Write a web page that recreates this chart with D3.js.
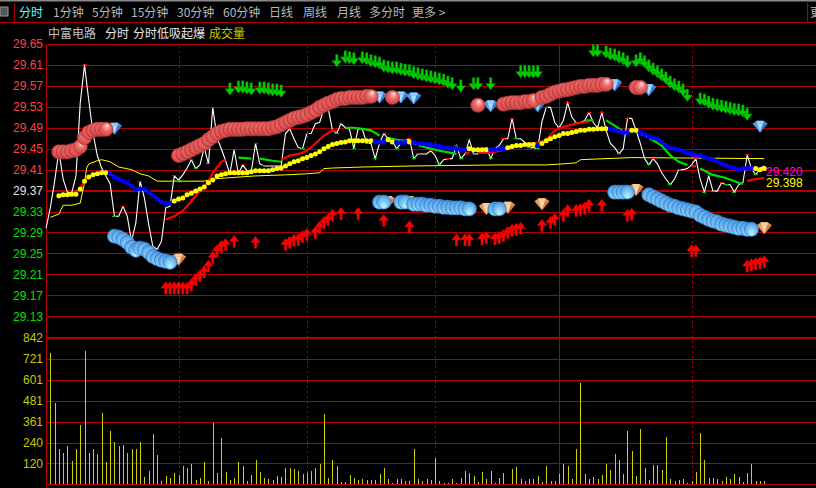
<!DOCTYPE html>
<html><head><meta charset="utf-8">
<script src="https://cdn.jsdelivr.net/npm/d3@7/dist/d3.min.js"></script>
<style>
html,body{margin:0;padding:0;background:#000;overflow:hidden}
svg{display:block}
text{font-family:"Liberation Sans",Arial,sans-serif;font-size:12px}
.cjk{font-family:"Noto Sans CJK SC","Noto Sans",sans-serif;font-size:12px}
</style></head><body><div id="chart"></div>
<script>
// ---------- labels ----------
const toolbarItems=["分时","1分钟","5分钟","15分钟","30分钟","60分钟","日线","周线","月线","多分时","更多 >"];
const titleItems=["中富电路","分时","分时低吸起爆","成交量"];
const priceTicks=[29.65,29.61,29.57,29.53,29.49,29.45,29.41,29.37,29.33,29.29,29.25,29.21,29.17,29.13];
const volumeTicks=[842,721,601,481,361,240,120,0];
const refPrice=29.37;
const sessionBreaks=[30,60,90,150];
const dayBreak=119;
const lastAvg="29.398", lastMain="29.420";

// ---------- minute price (white) ----------
const openPrice=29.298;
const whitePrices=[29.337,29.387,29.446,29.392,29.367,29.365,29.398,29.537,29.610,29.542,29.479,29.437,29.413,29.398,29.383,29.321,29.321,29.340,29.321,29.273,
29.308,29.388,29.356,29.306,29.263,29.258,29.273,29.337,29.340,29.398,29.390,29.400,29.413,29.429,29.412,29.419,29.452,29.421,29.529,29.471,
29.450,29.427,29.402,29.448,29.402,29.419,29.408,29.406,29.460,29.421,29.417,29.417,29.417,29.417,29.417,29.479,29.488,29.469,29.452,29.450,
29.479,29.479,29.498,29.500,29.527,29.527,29.485,29.479,29.498,29.490,29.487,29.450,29.488,29.487,29.460,29.460,29.431,29.460,29.479,29.469,
29.465,29.450,29.460,29.465,29.469,29.431,29.440,29.440,29.440,29.446,29.437,29.419,29.429,29.431,29.431,29.456,29.431,29.440,29.467,29.440,
29.440,29.450,29.452,29.431,29.450,29.456,29.469,29.469,29.508,29.469,29.469,29.462,29.452,29.452,29.450,29.502,29.529,29.529,29.500,29.490,
29.504,29.538,29.510,29.500,29.500,29.504,29.519,29.500,29.490,29.519,29.485,29.460,29.452,29.440,29.450,29.508,29.508,29.485,29.460,29.431,
29.419,29.431,29.421,29.404,29.392,29.381,29.392,29.410,29.410,29.412,29.419,29.431,29.392,29.367,29.398,29.369,29.369,29.385,29.381,29.381,
29.367,29.381,29.385,29.438,29.412,29.400,29.413,29.417];

// ---------- thin yellow average: [minute index, price] ----------
const avgLine=[[0,29.319],[2,29.325],[3,29.342],[5,29.342],[7,29.346],[8,29.385],[8.5,29.413],[9,29.421],[11,29.427],[12,29.429],[14,29.425],[16,29.415],[19,29.410],[21,29.402],[23,29.398],[25,29.388],[32,29.388],[36,29.388],[38,29.392],[41,29.394],[48,29.398],[55,29.400],[60,29.402],[63,29.404],[64,29.412],[66,29.413],[73,29.415],[85,29.417],[105,29.419],[116,29.419],[120,29.421],[123,29.423],[124,29.429],[136,29.433],[167,29.431]];

// ---------- dotted trend line, starts at index 2 ----------
const trendStart=2;
const trendPrices=[29.360,29.362,29.362,29.363,29.363,29.373,29.388,29.396,29.400,29.402,29.404,29.404,29.402,29.396,29.392,29.388,29.385,29.379,29.373,29.373,
29.373,29.367,29.360,29.354,29.348,29.346,29.346,29.350,29.354,29.356,29.362,29.365,29.369,29.373,29.377,29.385,29.390,29.398,29.400,29.402,
29.404,29.404,29.404,29.404,29.404,29.406,29.408,29.408,29.408,29.408,29.410,29.412,29.413,29.417,29.421,29.425,29.427,29.431,29.433,29.437,
29.440,29.444,29.450,29.454,29.458,29.460,29.462,29.463,29.465,29.465,29.465,29.465,29.465,29.465,29.463,29.463,29.463,29.467,29.463,29.462,
29.462,29.462,29.463,29.462,29.460,29.460,29.458,29.458,29.456,29.454,29.452,29.452,29.450,29.450,29.448,29.448,29.450,29.448,29.448,29.448,
29.448,29.448,29.448,29.450,29.450,29.452,29.454,29.456,29.456,29.458,29.458,29.458,29.456,29.460,29.465,29.469,29.473,29.475,29.479,29.479,
29.481,29.483,29.485,29.485,29.487,29.487,29.488,29.488,29.488,29.488,29.485,29.483,29.481,29.481,29.485,29.485,29.481,29.477,29.473,29.471,
29.469,29.463,29.456,29.452,29.450,29.448,29.444,29.442,29.440,29.438,29.437,29.433,29.431,29.429,29.425,29.421,29.419,29.415,29.413,29.410,
29.412,29.413,29.412,29.412,29.410,29.412];
const trendUpRanges=[[2,13],[29,75],[79,80],[84,84],[98,102],[107,113],[115,130],[136,137],[165,167]];

// ---------- thick line pieces: [minute index, price] ----------
const redPieces=[
[[5,29.363],[6,29.369],[7,29.373],[8,29.388]],
[[27,29.315],[29,29.321],[31,29.331],[33,29.350],[35,29.369],[37,29.388],[38,29.404],[40,29.425],[41,29.429]],
[[54,29.429],[56,29.437],[58,29.440],[59,29.442],[61,29.452],[62,29.460],[64,29.475],[66,29.485],[67,29.483]],
[[97,29.440],[98,29.442]],
[[100,29.442],[102,29.442],[104,29.444],[107,29.450],[109,29.456],[112,29.460],[114,29.460],[116,29.467],[118,29.485],[120,29.492],[123,29.498],[126,29.502]],
[[135,29.485],[136,29.485]],
[[150,29.417],[151,29.417]],
[[163,29.388],[165,29.392],[167,29.394]]];
const greenPieces=[
[[44,29.433],[47,29.431]],
[[49,29.431],[52,29.427],[54,29.425]],
[[69,29.490],[71,29.490],[73,29.488],[75,29.485],[77,29.475]],
[[79,29.471],[81,29.467],[83,29.465]],
[[85,29.460],[88,29.452],[91,29.446],[95,29.440]],
[[125,29.504],[127,29.504]],
[[130,29.504],[132,29.494],[134,29.483],[135,29.483]],
[[137,29.483],[140,29.471],[143,29.456],[145,29.437],[147,29.425],[149,29.419]],
[[152,29.412],[155,29.400],[158,29.394],[161,29.385],[162,29.383]]];

// ---------- signal markers ----------
const pearlIdx=[2,3,4,5,6,7,8,9,10,11,12,13,30,31,32,33,34,35,36,37,38,39,40,41,42,43,44,45,46,47,48,49,50,51,52,53,54,55,56,57,58,59,60,61,62,63,64,65,66,67,68,69,70,71,72,73,74,75,80,100,106,107,108,109,110,111,112,113,115,116,117,118,119,120,121,122,123,124,125,126,127,128,129,130,137,138];
const pearlPrice=[29.444,29.444,29.444,29.446,29.448,29.454,29.471,29.481,29.485,29.487,29.487,29.487,29.437,29.440,29.444,29.448,29.452,29.456,29.460,29.467,29.473,29.479,29.483,29.485,29.487,29.487,29.487,29.487,29.488,29.488,29.488,29.488,29.488,29.488,29.490,29.492,29.496,29.500,29.504,29.508,29.510,29.512,29.515,29.519,29.523,29.529,29.533,29.537,29.540,29.544,29.546,29.546,29.548,29.548,29.548,29.548,29.550,29.550,29.548,29.533,29.535,29.537,29.538,29.538,29.538,29.540,29.540,29.542,29.548,29.550,29.554,29.558,29.560,29.562,29.563,29.565,29.567,29.569,29.569,29.571,29.571,29.571,29.573,29.573,29.567,29.567];
const ballIdx=[15,16,17,18,19,20,21,22,23,24,25,26,27,28,77,78,82,83,85,86,87,88,89,90,91,92,93,94,95,96,97,98,104,105,132,133,134,135,140,141,142,143,144,145,146,147,148,149,150,151,152,153,154,155,156,157,158,159,160,161,162,163,164];
const ballPrice=[29.283,29.281,29.277,29.271,29.262,29.256,29.260,29.258,29.252,29.244,29.240,29.237,29.235,29.233,29.348,29.348,29.348,29.348,29.344,29.344,29.344,29.342,29.342,29.340,29.340,29.338,29.338,29.337,29.337,29.337,29.335,29.335,29.335,29.335,29.367,29.367,29.367,29.367,29.362,29.358,29.354,29.350,29.346,29.342,29.340,29.337,29.335,29.333,29.331,29.329,29.323,29.319,29.315,29.312,29.310,29.306,29.304,29.302,29.300,29.298,29.298,29.296,29.296];
const sellIdx=[42,44,45,46,47,49,50,51,52,53,54,67,69,70,71,73,74,75,76,77,78,79,80,81,82,83,84,85,86,87,88,89,90,91,92,93,94,96,99,100,103,110,111,112,113,114,127,128,130,131,132,133,134,135,137,138,139,140,141,142,143,144,145,146,147,148,149,152,153,154,155,156,157,158,159,160,161,162,163];
const sellPrice=[29.552,29.556,29.556,29.554,29.552,29.554,29.554,29.552,29.550,29.550,29.548,29.606,29.613,29.612,29.610,29.612,29.610,29.606,29.604,29.602,29.596,29.594,29.592,29.592,29.590,29.588,29.587,29.583,29.581,29.579,29.577,29.575,29.573,29.571,29.569,29.565,29.562,29.558,29.562,29.562,29.562,29.585,29.585,29.585,29.585,29.585,29.625,29.625,29.623,29.619,29.617,29.613,29.610,29.604,29.606,29.610,29.604,29.596,29.590,29.585,29.579,29.573,29.565,29.560,29.556,29.550,29.540,29.533,29.531,29.527,29.523,29.521,29.519,29.517,29.515,29.513,29.512,29.510,29.504];
const buyIdx=[27,28,29,30,31,32,33,34,35,36,37,38,39,40,41,43,48,55,56,57,58,59,60,62,63,64,65,66,68,72,78,84,95,97,98,101,102,104,105,106,107,108,109,110,115,117,118,120,121,123,124,125,126,129,135,136,150,151,163,164,165,166,167];
const buyPrice=[29.196,29.196,29.196,29.196,29.196,29.196,29.202,29.212,29.219,29.227,29.238,29.254,29.267,29.275,29.279,29.285,29.283,29.279,29.283,29.287,29.288,29.294,29.298,29.302,29.312,29.321,29.327,29.335,29.338,29.338,29.325,29.313,29.288,29.288,29.288,29.290,29.292,29.290,29.292,29.296,29.302,29.306,29.308,29.310,29.315,29.321,29.327,29.335,29.344,29.344,29.346,29.348,29.354,29.354,29.335,29.337,29.267,29.267,29.238,29.240,29.242,29.244,29.246];
const blueGemIdx=[15,77,82,85,103,114,132,140,166];
const blueGemPrice=[29.488,29.548,29.548,29.546,29.531,29.531,29.571,29.562,29.492];
const orangeGemIdx=[30,79,84,102,107,115,137,167];
const orangeGemPrice=[29.238,29.348,29.348,29.335,29.337,29.344,29.371,29.298];

// ---------- volume ----------
const volumes=[754,470,206,178,223,132,206,344,768,183,206,172,413,126,309,241,223,229,183,206,206,241,40,74,287,166,17,46,34,63,52,103,92,115,23,34,126,17,350,63,264,69,23,34,126,103,17,52,138,69,34,29,
23,46,40,92,92,86,74,57,63,74,92,115,407,34,138,103,11,11,52,34,23,29,23,23,23,57,92,29,6,29,29,17,17,201,29,17,29,23,149,17,6,6,29,6,34,74,63,46,11,69,29,74,6,34,63,0,86,97,29,17,29,29,46,11,
103,17,17,57,115,103,29,201,584,57,29,40,29,52,115,80,172,138,57,309,189,46,321,92,23,109,109,80,275,29,17,23,29,6,17,69,298,138,34,34,29,17,40,29,57,40,11,63,115,17,17,17];

// ---------- colours ----------
const GRID="#b00000",AXIS_RED="#ff4040",AXIS_GREEN="#00e000",AXIS_WHITE="#e0e0e0",VOL="#d0d000";

const W=816,H=488;
const svg=d3.select("#chart").append("svg").attr("width",W).attr("height",H).style("background","#000");
const x=d3.scaleLinear().domain([0,167]).range([50.3,764.3]);
const y=d3.scaleLinear().domain([29.13,29.65]).range([316.2,44]);
const yv=d3.scaleLinear().domain([0,842]).range([484.3,338]);
const px=v=>Math.round(v)+.5;

// defs
const defs=svg.append("defs");
const rg=(id,fx,fy,stops)=>{const g=defs.append("radialGradient").attr("id",id).attr("cx","50%").attr("cy","50%").attr("r","55%").attr("fx",fx).attr("fy",fy);
 stops.forEach(s=>g.append("stop").attr("offset",s[0]).attr("stop-color",s[1]));};
rg("pearl","60%","22%",[["0%","#fff4f2"],["20%","#fbb0ae"],["50%","#ec6a6a"],["82%","#dc4c4c"],["100%","#9c2c2c"]]);
rg("ball","50%","85%",[["0%","#c0f8ff"],["45%","#88cdf5"],["80%","#5aa8ea"],["100%","#3a80d0"]]);

// toolbar
svg.append("rect").attr("width",W).attr("height",1.5).attr("fill","#8a8a8a");
svg.append("rect").attr("x",0).attr("y",7).attr("width",8).attr("height",9).attr("fill","#555").attr("stroke","#999");
const tbX=[19,53,92,131,177,223,269,303,337,369,412];
svg.selectAll("text.tb").data(toolbarItems).join("text").attr("class","cjk tb")
 .attr("x",(d,i)=>tbX[i]).attr("y",17).attr("fill",(d,i)=>i==0?"#50ffff":"#b8b8b8").text(d=>d);
svg.append("text").attr("class","cjk").attr("x",810).attr("y",17).attr("fill","#c0c0c0").text("更");
svg.append("line").attr("x1",0).attr("x2",W).attr("y1",22.5).attr("y2",22.5).attr("stroke",GRID);
[14.5,807.5].forEach(v=>svg.append("line").attr("x1",v).attr("x2",v).attr("y1",3).attr("y2",22).attr("stroke",GRID));
const tiX=[48,105,133,209],tiC=["#c0c0c0","#e8e8e8","#e8e8e8","#c8c800"];
svg.selectAll("text.ti").data(titleItems).join("text").attr("class","cjk ti")
 .attr("x",(d,i)=>tiX[i]).attr("y",38).attr("fill",(d,i)=>tiC[i]).text(d=>d);

// grids
const grid=svg.append("g").attr("shape-rendering","crispEdges");
priceTicks.forEach(p=>{const t=p===refPrice;grid.append("line").attr("x1",47).attr("x2",W)
 .attr("y1",t?Math.round(y(p)):px(y(p))).attr("y2",t?Math.round(y(p)):px(y(p))).attr("stroke",GRID).attr("stroke-width",t?2:1);});
volumeTicks.forEach(v=>{const t=v===842;grid.append("line").attr("x1",47).attr("x2",W)
 .attr("y1",t?Math.round(yv(v)):px(yv(v))).attr("y2",t?Math.round(yv(v)):px(yv(v))).attr("stroke",GRID).attr("stroke-width",t?2:1);});
grid.append("line").attr("x1",46.5).attr("x2",46.5).attr("y1",44).attr("y2",488).attr("stroke",GRID);
sessionBreaks.forEach(i=>grid.append("line").attr("x1",px(x(i))-.5).attr("x2",px(x(i))-.5).attr("y1",46).attr("y2",484)
 .attr("stroke","#b00000").attr("stroke-dasharray","1.5,3.5"));
grid.append("line").attr("x1",px(x(dayBreak))).attr("x2",px(x(dayBreak))).attr("y1",44).attr("y2",484).attr("stroke",GRID);

// axes
const priceAxis=d3.axisLeft(y).tickValues(priceTicks).tickSize(0).tickPadding(3).tickFormat(d3.format(".2f"));
const pa=svg.append("g").attr("transform","translate(46,0)").call(priceAxis);
pa.select(".domain").remove();
pa.selectAll("text").style("font-size","12px").style("font-family",'"Liberation Sans",Arial,sans-serif')
 .attr("fill",d=>d>refPrice?AXIS_RED:d<refPrice?AXIS_GREEN:AXIS_WHITE);
const volAxis=d3.axisLeft(yv).tickValues(volumeTicks.filter(v=>v>0)).tickSize(0).tickPadding(3).tickFormat(d3.format("d"));
const va=svg.append("g").attr("transform","translate(46,0)").call(volAxis);
va.select(".domain").remove();
va.selectAll("text").style("font-size","12px").style("font-family",'"Liberation Sans",Arial,sans-serif').attr("fill","#c8c800");

// volume bars
svg.append("g").attr("shape-rendering","crispEdges").selectAll("rect").data(volumes).join("rect")
 .attr("x",(d,i)=>Math.round(x(i))).attr("width",1).attr("y",d=>yv(d)).attr("height",d=>yv(0)-yv(d)).attr("fill",VOL);

// lines
const pairLine=d3.line().x(d=>x(d[0])).y(d=>y(d[1]));
svg.append("path").attr("d",pairLine(avgLine)).attr("fill","none").attr("stroke","#ffff00").attr("stroke-width",1);
const whitePairs=[[-1,openPrice]].concat(whitePrices.map((p,i)=>[i,p]));
svg.append("path").attr("d",pairLine(whitePairs)).attr("fill","none").attr("stroke","#ffffff").attr("stroke-width",1.1);
// turning-point ticks on the white line
const turns=whitePrices.map((p,i)=>{const a=whitePrices[i-1],b=whitePrices[i+1];
 if(a===undefined||b===undefined)return null;
 if(p>a&&p>=b)return {i,p,c:"#ff0000"}; if(p<a&&p<=b)return {i,p,c:"#00d000"}; return null;}).filter(Boolean);
svg.append("g").attr("shape-rendering","crispEdges").selectAll("rect").data(turns).join("rect")
 .attr("x",d=>x(d.i)-2).attr("y",d=>y(d.p)-.5).attr("width",4).attr("height",1).attr("fill",d=>d.c);

const thick=(pieces,c)=>svg.append("g").selectAll("path").data(pieces).join("path")
 .attr("d",d=>pairLine(d)).attr("fill","none").attr("stroke",c).attr("stroke-width",2.2);
thick(greenPieces,"#00e000");
thick(redPieces,"#ff0000");

// dotted trend
const isUp=i=>trendUpRanges.some(r=>i>=r[0]&&i<=r[1]);
const trendData=trendPrices.map((p,k)=>({i:k+trendStart,p,up:isUp(k+trendStart)}));
svg.append("g").selectAll("line").data(trendData.slice(1)).join("line")
 .attr("x1",d=>x(d.i-1)).attr("x2",d=>x(d.i)).attr("y1",d=>y(trendData[d.i-1-trendStart].p)).attr("y2",d=>y(d.p))
 .attr("stroke",d=>d.up?"#ff0000":"#00c800").attr("stroke-width",1.5);
svg.append("g").selectAll("circle").data(trendData).join("circle")
 .attr("cx",d=>x(d.i)).attr("cy",d=>y(d.p)).attr("r",2.5).attr("fill",d=>d.up?"#ffff00":"#0000ff");

// gems
function gem(i,p,base,lite,dark){
 const g=svg.append("g").attr("transform",`translate(${x(i)},${y(p)})`);
 g.append("polygon").attr("points","-7.5,-3 -3.5,-6 3.5,-6 7.5,-3 0,6").attr("fill",base);
 g.append("polygon").attr("points","-3,-3 3,-3 0,5").attr("fill",lite);
 g.append("polygon").attr("points","-3.5,-6 3.5,-6 3,-3 -3,-3").attr("fill",lite).attr("opacity",.8);
 g.append("polygon").attr("points","3,-3 7.5,-3 0,6").attr("fill",dark).attr("opacity",.7);
}
blueGemIdx.forEach((v,k)=>gem(v,blueGemPrice[k],"#4e96e8","#a8dcff","#2f74d0"));
orangeGemIdx.forEach((v,k)=>gem(v,orangeGemPrice[k],"#e89a58","#ffd8a8","#c87030"));

// arrows (tip at the price)
const upPath="M0,0L5,6.5L1.3,6.5L1.3,12.5L-1.3,12.5L-1.3,6.5L-5,6.5Z";
svg.append("g").selectAll("path").data(buyIdx).join("path")
 .attr("d",upPath).attr("transform",(d,k)=>`translate(${x(d)},${y(buyPrice[k])})`)
 .attr("fill","#ff0000").attr("stroke","#900000").attr("stroke-width",.3);
svg.append("g").selectAll("path").data(sellIdx).join("path")
 .attr("d",upPath).attr("transform",(d,k)=>`translate(${x(d)},${y(sellPrice[k])}) scale(1,-1)`)
 .attr("fill","#00d000").attr("stroke","#006000").attr("stroke-width",.4);

// pearls and balls
svg.append("g").selectAll("circle").data(pearlIdx).join("circle")
 .attr("cx",d=>x(d)).attr("cy",(d,k)=>y(pearlPrice[k])).attr("r",7.2)
 .attr("fill","url(#pearl)").attr("stroke","#a83838").attr("stroke-width",.5);
svg.append("g").selectAll("circle").data(ballIdx).join("circle")
 .attr("cx",d=>x(d)).attr("cy",(d,k)=>y(ballPrice[k])).attr("r",7.2)
 .attr("fill","url(#ball)").attr("stroke","#2a70c8").attr("stroke-width",.5);

// last values
svg.append("text").attr("x",766).attr("y",176).attr("fill","#ff00ff").text(lastMain);
svg.append("text").attr("x",766).attr("y",187).attr("fill","#ffff00").text(lastAvg);
</script></body></html>
